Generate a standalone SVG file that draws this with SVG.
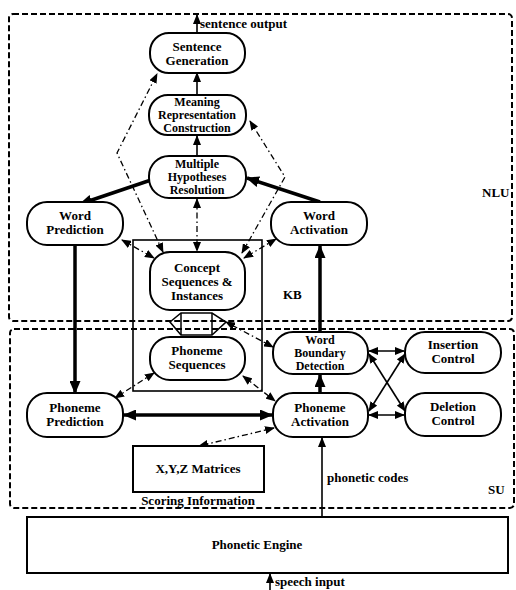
<svg xmlns="http://www.w3.org/2000/svg" width="516" height="590" viewBox="0 0 516 590">
<defs>
<marker id="ah" markerUnits="userSpaceOnUse" markerWidth="10" markerHeight="8" refX="9" refY="4" orient="auto-start-reverse"><path d="M0,0 L10,4 L0,8 z" fill="#000"/></marker>
<marker id="ahb" markerUnits="userSpaceOnUse" markerWidth="13" markerHeight="11" refX="12" refY="5.5" orient="auto-start-reverse"><path d="M0,0 L13,5.5 L0,11 z" fill="#000"/></marker>
</defs>
<style>
text{font-family:"Liberation Serif","Times New Roman",serif;font-weight:bold;font-size:13px;fill:#000}
.n rect{fill:#fff;stroke:#000;stroke-width:2}
.n text{text-anchor:middle}
.n3 text{font-size:12px}
.region{fill:none;stroke:#000;stroke-width:2;stroke-dasharray:6 3}
.thin{stroke:#000;stroke-width:1.6;fill:none}
.thick{stroke:#000;stroke-width:3.5;fill:none}
.dd{stroke:#000;stroke-width:1.3;fill:none;stroke-dasharray:6 3 1.5 3}
</style>
<rect class="region" x="9" y="14" width="503" height="307" rx="4"/>
<rect class="region" x="10" y="329" width="504" height="179" rx="4"/>
<text x="482" y="197">NLU</text>
<text x="488" y="494">SU</text>
<rect x="133" y="240" width="129" height="151" fill="none" stroke="#000" stroke-width="1.6"/>
<text x="283" y="299">KB</text>
<g id="connectors">
<line class="thin" x1="197" y1="33" x2="197" y2="15" marker-end="url(#ah)"/>
<line class="thin" x1="197" y1="95" x2="197" y2="73" marker-end="url(#ah)"/>
<line class="thin" x1="197" y1="156" x2="197" y2="136" marker-end="url(#ah)"/>
<line class="thick" x1="151" y1="180" x2="80" y2="204" marker-end="url(#ahb)"/>
<line class="thick" x1="320" y1="202" x2="247" y2="178" marker-end="url(#ahb)"/>
<line class="thick" x1="75" y1="246" x2="75" y2="393" marker-end="url(#ahb)"/>
<line class="thick" x1="320" y1="332" x2="320" y2="246" marker-end="url(#ahb)"/>
<line class="thick" x1="320" y1="393" x2="320" y2="375" marker-end="url(#ahb)"/>
<line class="thick" x1="124" y1="415" x2="272" y2="415" marker-start="url(#ahb)" marker-end="url(#ahb)"/>
<line class="thin" x1="369" y1="351" x2="404" y2="351" marker-start="url(#ah)" marker-end="url(#ah)"/>
<line class="thin" x1="369" y1="415" x2="404" y2="415" marker-start="url(#ah)" marker-end="url(#ah)"/>
<line class="thin" x1="369" y1="354" x2="405" y2="411" marker-start="url(#ah)" marker-end="url(#ah)"/>
<line class="thin" x1="405" y1="354" x2="369" y2="411" marker-start="url(#ah)" marker-end="url(#ah)"/>
<line class="thin" x1="322" y1="517" x2="322" y2="438" marker-end="url(#ah)"/>
<line class="thin" x1="270" y1="590" x2="270" y2="574" marker-end="url(#ah)"/>
<polyline class="dd" points="163,252 117,153 157,74" marker-start="url(#ah)" marker-end="url(#ah)"/>
<polyline class="dd" points="242,253 285,177 250,121" marker-start="url(#ah)" marker-end="url(#ah)"/>
<line class="dd" x1="197" y1="199" x2="197" y2="251" marker-start="url(#ah)" marker-end="url(#ah)"/>
<line class="dd" x1="122" y1="240" x2="154" y2="258" marker-start="url(#ah)" marker-end="url(#ah)"/>
<line class="dd" x1="276" y1="239" x2="244" y2="258" marker-start="url(#ah)" marker-end="url(#ah)"/>
<line class="dd" x1="273" y1="347" x2="226" y2="322" marker-start="url(#ah)" marker-end="url(#ah)"/>
<line class="dd" x1="154" y1="373" x2="115" y2="398" marker-start="url(#ah)" marker-end="url(#ah)"/>
<line class="dd" x1="243" y1="376" x2="275" y2="401" marker-start="url(#ah)" marker-end="url(#ah)"/>
<line class="dd" x1="274" y1="428" x2="199" y2="446" marker-start="url(#ah)" marker-end="url(#ah)"/>
<polygon points="170,322 181,313 212,313 226,322 212,335 181,335" fill="none" stroke="#000" stroke-width="1.5"/>
<line x1="181" y1="313" x2="181" y2="335" stroke="#000" stroke-width="1.5"/>
<line x1="212" y1="313" x2="212" y2="335" stroke="#000" stroke-width="1.5"/>
</g>
<text x="200" y="28">sentence output</text>
<text x="327" y="482">phonetic codes</text>
<text x="275" y="586">speech input</text>
<g id="sentence-generation" class="n"><rect x="150" y="33" width="95" height="40" rx="19"/><text x="197" y="51">Sentence</text><text x="197" y="65">Generation</text></g>
<g id="meaning-representation" class="n n3"><rect x="149" y="95" width="97" height="40" rx="19"/><text x="197" y="106">Meaning</text><text x="197" y="119">Representation</text><text x="197" y="132">Construction</text></g>
<g id="multiple-hypotheses" class="n n3"><rect x="149" y="156" width="97" height="42" rx="20"/><text x="197" y="168">Multiple</text><text x="197" y="181">Hypotheses</text><text x="197" y="194">Resolution</text></g>
<g id="word-prediction" class="n"><rect x="27" y="202" width="96" height="43" rx="20"/><text x="75" y="220">Word</text><text x="75" y="234">Prediction</text></g>
<g id="word-activation" class="n"><rect x="271" y="202" width="96" height="43" rx="20"/><text x="319" y="220">Word</text><text x="319" y="234">Activation</text></g>
<g id="concept-sequences" class="n"><rect x="150" y="252" width="95" height="58" rx="20"/><text x="197" y="272">Concept</text><text x="197" y="286">Sequences &amp;</text><text x="197" y="300">Instances</text></g>
<g id="phoneme-sequences" class="n"><rect x="150" y="337" width="95" height="43" rx="20"/><text x="197" y="355">Phoneme</text><text x="197" y="369">Sequences</text></g>
<g id="phoneme-prediction" class="n"><rect x="27" y="393" width="96" height="44" rx="20"/><text x="75" y="412">Phoneme</text><text x="75" y="426">Prediction</text></g>
<g id="word-boundary" class="n n3"><rect x="273" y="332" width="95" height="42" rx="20"/><text x="320" y="344">Word</text><text x="320" y="357">Boundary</text><text x="320" y="370">Detection</text></g>
<g id="phoneme-activation" class="n"><rect x="273" y="393" width="95" height="44" rx="20"/><text x="320" y="412">Phoneme</text><text x="320" y="426">Activation</text></g>
<g id="insertion-control" class="n"><rect x="405" y="332" width="96" height="41" rx="20"/><text x="453" y="349">Insertion</text><text x="453" y="363">Control</text></g>
<g id="deletion-control" class="n"><rect x="405" y="393" width="96" height="43" rx="20"/><text x="453" y="411">Deletion</text><text x="453" y="425">Control</text></g>
<g id="xyz-matrices" class="n"><rect x="133" y="446" width="131" height="46" rx="0"/><text x="198" y="473">X,Y,Z Matrices</text><text x="198" y="505">Scoring Information</text></g>
<g id="phonetic-engine" class="n"><rect x="27" y="517" width="481" height="56" rx="0"/><text x="257" y="549">Phonetic Engine</text></g>
</svg>
